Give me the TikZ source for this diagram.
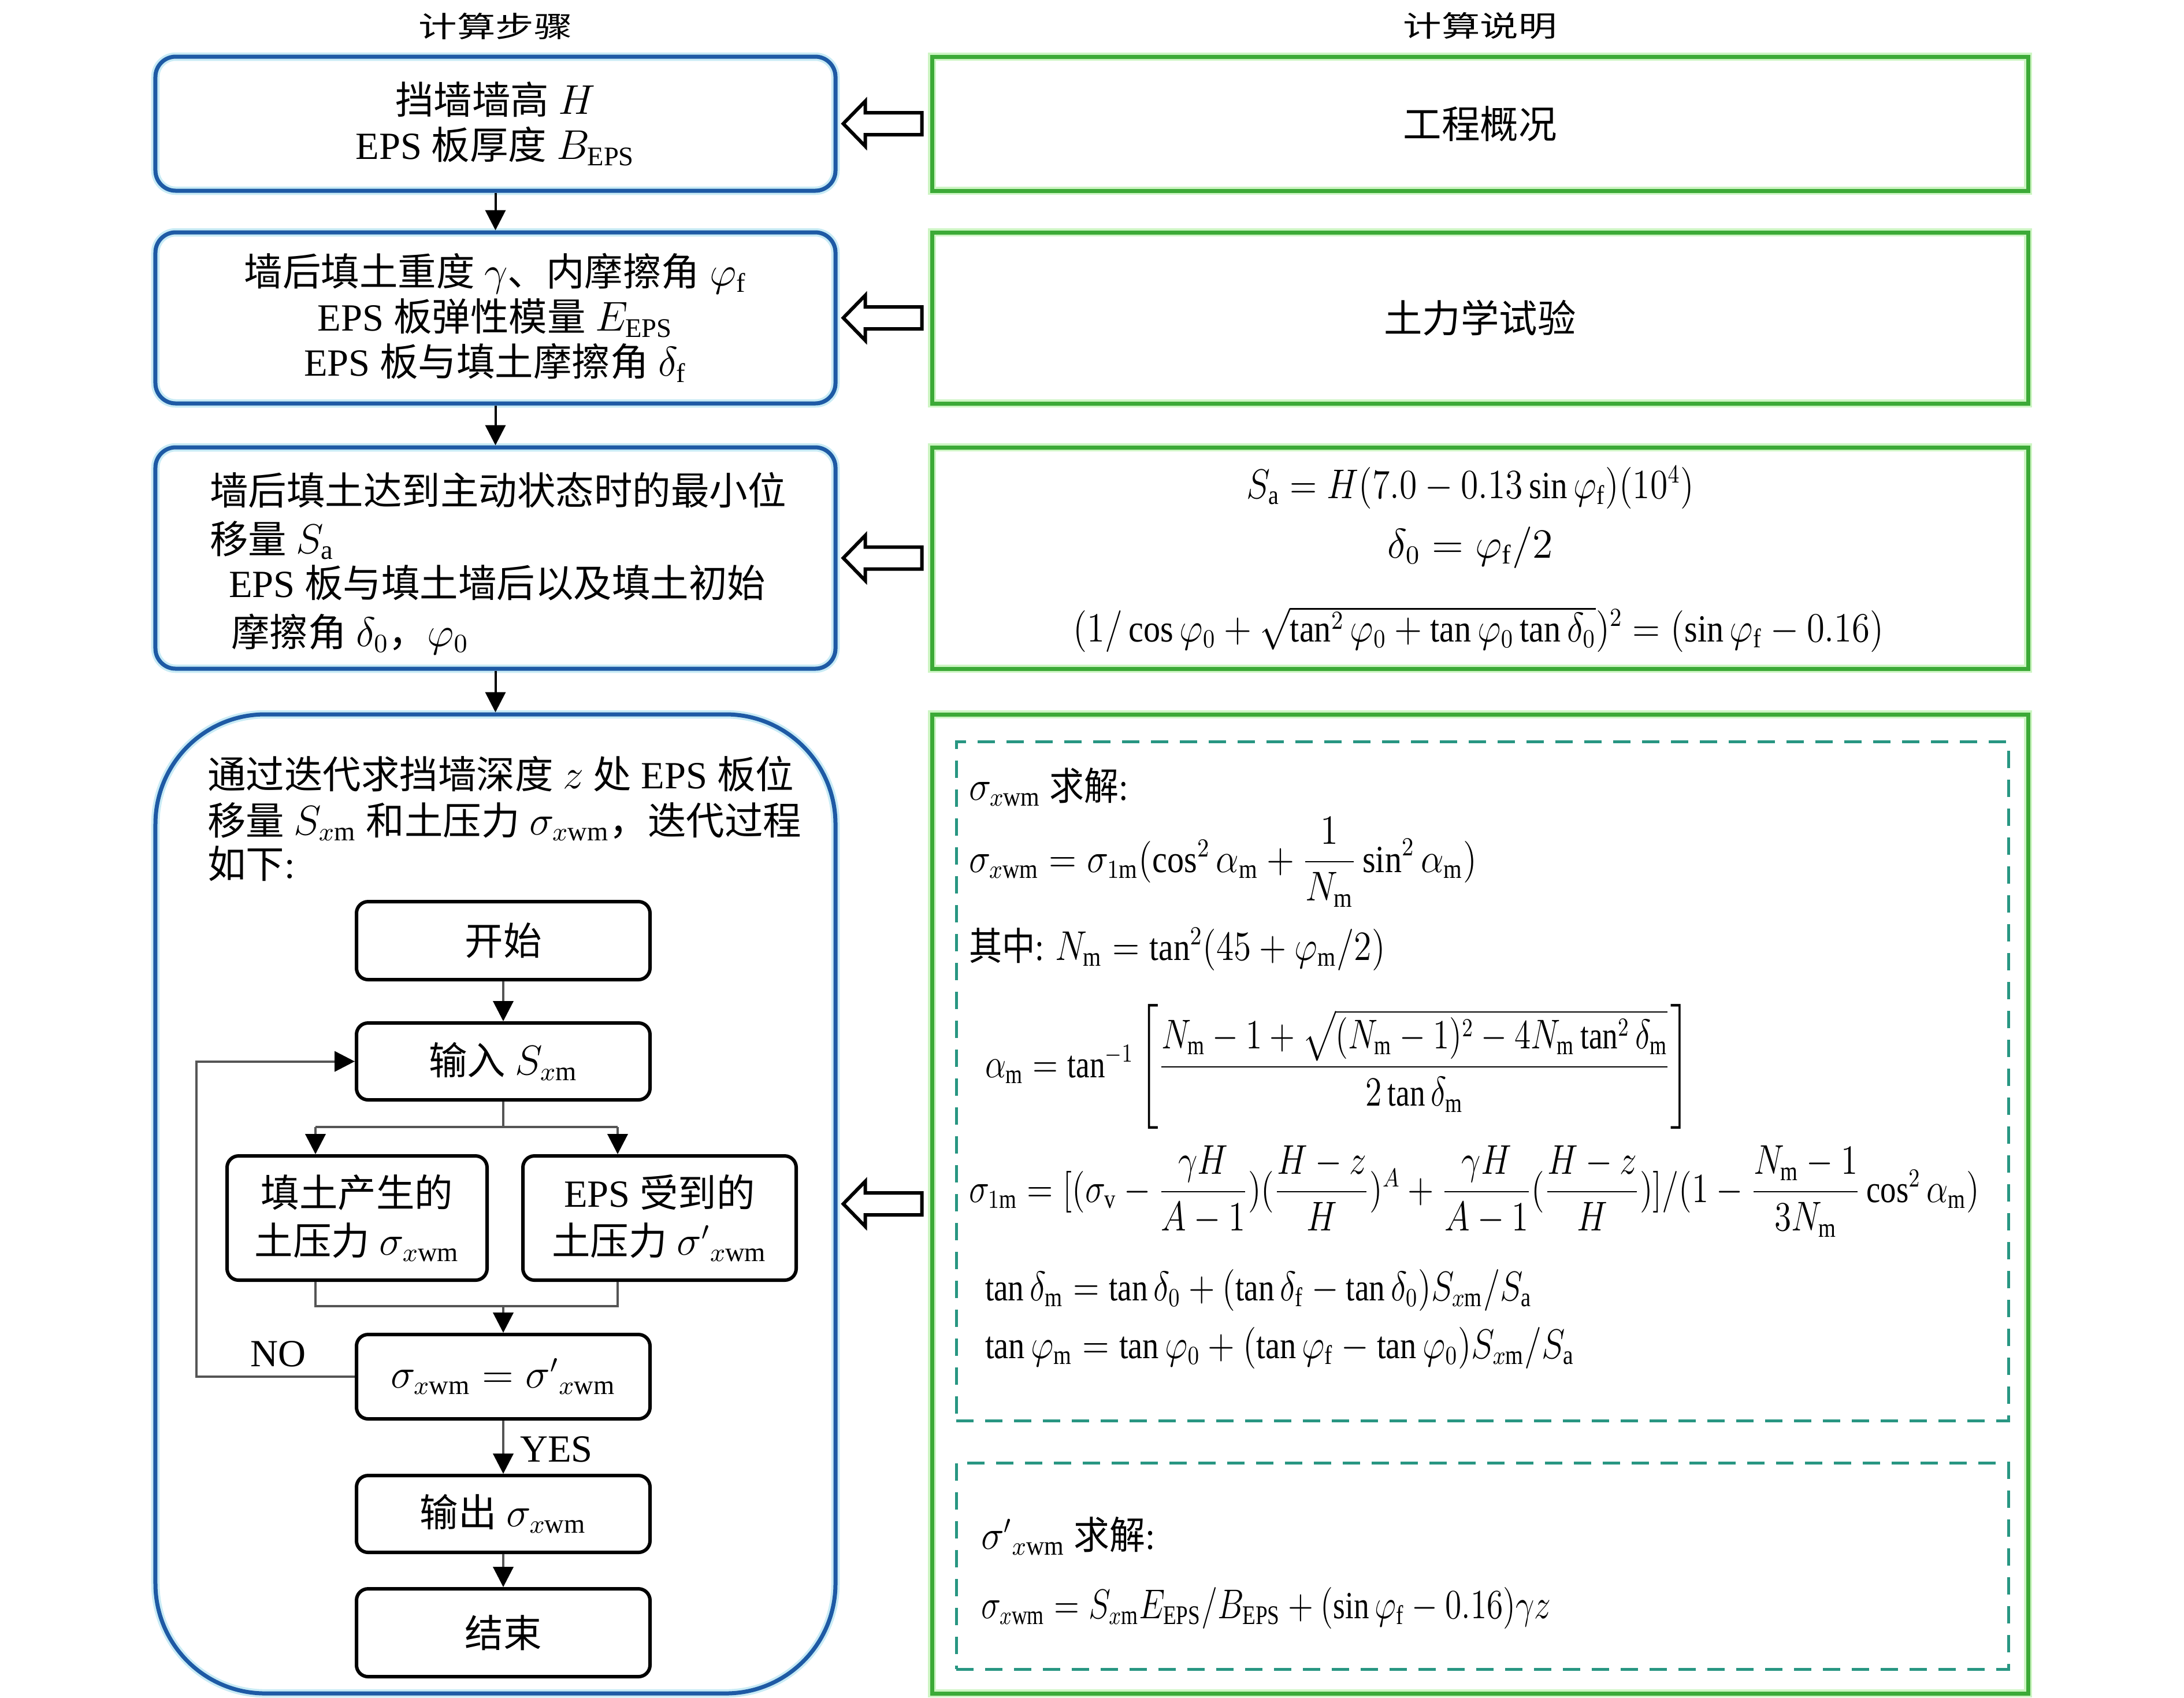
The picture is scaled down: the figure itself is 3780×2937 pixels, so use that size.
\documentclass[tikz,border=0pt]{standalone}
\usepackage{graphicx}
\usepackage{amsmath}
\usepackage{fontspec}
\setmainfont{Liberation Serif}
\newfontfamily\cjk{Noto Sans CJK SC}
\usetikzlibrary{arrows.meta,calc}
\newcommand{\zh}[1]{{\cjk #1}}
\newcommand{\sx}[2]{\scalebox{#1}[1]{#2}}
\definecolor{bluec}{RGB}{30,90,165}
\definecolor{bluehalo}{RGB}{200,235,245}
\definecolor{greenc}{RGB}{60,170,55}
\definecolor{greenhalo}{RGB}{205,245,195}
\definecolor{tealc}{RGB}{40,150,130}
\definecolor{connc}{RGB}{85,85,85}
\tikzset{
  txt/.style={font=\fontsize{13.3pt}{15.6pt}\selectfont, inner sep=0pt},
  bluebox/.style={txt, draw=bluec, line width=1.4pt, rounded corners=7pt,
    preaction={draw=bluehalo, line width=2.9pt}, minimum width=235.4pt, align=center},
  greenbox/.style={txt, draw=greenc, line width=1.4pt,
    preaction={draw=greenhalo, line width=2.9pt}, minimum width=379.4pt, align=center},
  dashbox/.style={draw=tealc, line width=1pt, dash pattern=on 6pt off 4pt, inner sep=0pt},
  fcbox/.style={txt, draw=black, line width=1.2pt, rounded corners=4pt,
    minimum width=101.6pt, minimum height=26.6pt, align=center},
  conn/.style={draw=connc, line width=0.8pt},
  arr/.style={conn, -{Triangle[length=7pt,width=7pt,color=black]}},
  mainarr/.style={draw=black, line width=0.8pt, -{Triangle[length=7pt,width=7pt]}},
  hollow/.style={draw=black, line width=1.2pt, fill=white, line join=miter},
  lw/.style={txt, anchor=base west},
  lc/.style={txt, anchor=base},
}
\begin{document}
\begin{tikzpicture}[x=0.2pt,y=-0.2pt]
\useasboundingbox (0,0) rectangle (3780,2937);
\fill[white] (0,0) rectangle (3780,2937);

% headers
\node[txt] (h1) at (857.5,45) {\scalebox{1}[0.75]{\zh{计算步骤}}};
\node[txt] (h2) at (2561.5,45) {\scalebox{1}[0.75]{\zh{计算说明}}};

% left column
\node[bluebox, minimum height=46.4pt] (L1) at (857.5,214)
  {\zh{挡墙墙高} $H$\\EPS \zh{板厚度} $B_{\mathrm{EPS}}$};
\node[bluebox, minimum height=59.2pt] (L2) at (857.5,550)
  {\zh{墙后填土重度} $\gamma$\zh{、内摩擦角} $\varphi_{\mathrm f}$\\EPS \zh{板弹性模量} $E_{\mathrm{EPS}}$\\EPS \zh{板与填土摩擦角} $\delta_{\mathrm f}$};
\node[bluebox, minimum height=76.6pt] (L3) at (857.5,965.5) {};
\node[bluebox, minimum height=338.8pt, rounded corners=38pt] (L4) at (857.5,2083) {};

\draw[mainarr] (L1.south) -- (L2.north);
\draw[mainarr] (L2.south) -- (L3.north);
\draw[mainarr] (L3.south) -- (L4.north);

% right column
\node[greenbox, minimum height=46.4pt] (R1) at (2561.5,214) {\zh{工程概况}};
\node[greenbox, minimum height=59.2pt] (R2) at (2561.5,550) {\zh{土力学试验}};
\node[greenbox, minimum height=76.6pt] (R3) at (2561.5,965.5) {};
\node[greenbox, minimum height=338.8pt] (R4) at (2561.5,2083) {};
\node[dashbox, minimum width=364.2pt, minimum height=235pt] (D1) at (2565.5,1870.5) {};
\node[dashbox, minimum width=364.2pt, minimum height=71.4pt] (D2) at (2565.5,2709.5) {};

% hollow arrows
\foreach \n in {1,2,3,4}
  \draw[hollow] ($(L\n.east)+(10,0)$) -- ++(38,-39) -- ++(0,20) -- ++(98,0)
     -- ++(0,38) -- ++(-98,0) -- ++(0,20) -- cycle;

% box 3 text
\node[lw] (t3a) at (362,873) {\zh{墙后填土达到主动状态时的最小位}};
\node[lw] (t3b) at (362,957) {\zh{移量} $S_{\mathrm a}$};
\node[lw] (t3c) at (395,1033) {EPS \zh{板与填土墙后以及填土初始}};
\node[lw] (t3d) at (399,1118) {\zh{摩擦角} $\delta_0$\zh{，}$\varphi_0$};

% box 4 text
\node[lw] (t4a) at (358,1364) {\zh{通过迭代求挡墙深度} $z$ \zh{处} EPS \zh{板位}};
\node[lw] (t4b) at (358,1444) {\zh{移量} $S_{x\mathrm m}$ \zh{和土压力} $\sigma_{x\mathrm{wm}}$\zh{，迭代过程}};
\node[lw] (t4c) at (358,1519) {\zh{如下}:};

% inner flowchart
\node[fcbox, minimum height=27pt] (st) at (871,1627.5) {\zh{开始}};
\node[fcbox] (in) at (871,1836.5) {\zh{输入} $S_{x\mathrm m}$};
\node[fcbox, minimum width=90pt, minimum height=43pt, font=\fontsize{13.3pt}{16.5pt}\selectfont] (ft) at (618,2107.5)
  {\zh{填土产生的}\\\zh{土压力} $\sigma_{x\mathrm{wm}}$};
\node[fcbox, minimum width=94.6pt, minimum height=43pt, font=\fontsize{13.3pt}{16.5pt}\selectfont] (fe) at (1141.5,2107.5)
  {EPS \zh{受到的}\\\zh{土压力} $\sigma'{}_{x\mathrm{wm}}$};
\node[fcbox, minimum height=29.2pt] (eq) at (871,2382) {$\sigma_{x\mathrm{wm}} = \sigma'{}_{x\mathrm{wm}}$};
\node[fcbox] (out) at (871,2619.5) {\zh{输出} $\sigma_{x\mathrm{wm}}$};
\node[fcbox, minimum height=30.4pt] (fin) at (871,2825) {\zh{结束}};

\draw[arr] (st) -- (in);
\coordinate (sp) at (871,1950);
\coordinate (spl) at (546,1950);
\coordinate (spr) at (1069,1950);
\draw[conn] (in.south) -- (sp);
\draw[conn] (spl) -- (spr);
\draw[arr] (spl) -- (spl |- ft.north);
\draw[arr] (spr) -- (spr |- fe.north);
\coordinate (mgl) at (546,2260);
\coordinate (mgr) at (1069,2260);
\coordinate (mg) at (871,2260);
\draw[conn] (mgl |- ft.south) -- (mgl) -- (mgr) -- (mgr |- fe.south);
\draw[arr] (mg) -- (eq.north);
\coordinate (lp) at (340,2000);
\draw[arr] (eq.west) -- (eq.west -| lp) -- (lp |- in.west) -- (in.west);
\draw[arr] (eq) -- (out);
\draw[arr] (out) -- (fin);
\node[txt] (no) at (482,2343) {NO};
\node[txt] (yes) at (963,2508) {YES};

% R3 formulas
\node[lc] (f1) at (2545,862) {\sx{0.86}{$S_{\mathrm a} = H(7.0 - 0.13\sin\varphi_{\mathrm f})(10^4)$}};
\node[lc] (f2) at (2545,965) {$\delta_0 = \varphi_{\mathrm f}/2$};
\node[lc] (f3) at (2559,1110) {\sx{0.875}{$(1/\cos\varphi_0 + \sqrt{\tan^2\varphi_0 + \tan\varphi_0\tan\delta_0})^2 = (\sin\varphi_{\mathrm f} - 0.16)$}};

% D1 formulas
\node[lw] (g1) at (1676,1384) {\sx{0.9}{$\sigma_{x\mathrm{wm}}$ \zh{求解}:}};
\node[lw] (g2) at (1676,1509) {\sx{0.875}{$\sigma_{x\mathrm{wm}} = \sigma_{1\mathrm m}(\cos^2\alpha_{\mathrm m} + \dfrac{1}{N_{\mathrm m}}\sin^2\alpha_{\mathrm m})$}};
\node[lw] (g3) at (1676,1661) {\sx{0.86}{\zh{其中}: $N_{\mathrm m} = \tan^2(45 + \varphi_{\mathrm m}/2)$}};
\node[lw] (g4) at (1704,1864) {\sx{0.8}{$\alpha_{\mathrm m} = \tan^{-1}\left[\dfrac{N_{\mathrm m} - 1 + \sqrt{(N_{\mathrm m}-1)^2 - 4N_{\mathrm m}\tan^2\delta_{\mathrm m}}}{2\tan\delta_{\mathrm m}}\right]$}};
\node[lw] (g5) at (1676,2080) {\sx{0.825}{$\sigma_{1\mathrm m} = [(\sigma_{\mathrm v} - \dfrac{\gamma H}{A-1})(\dfrac{H-z}{H})^A + \dfrac{\gamma H}{A-1}(\dfrac{H-z}{H})]/(1 - \dfrac{N_{\mathrm m}-1}{3N_{\mathrm m}}\cos^2\alpha_{\mathrm m})$}};
\node[lw] (g6) at (1704,2250) {\sx{0.83}{$\tan\delta_{\mathrm m} = \tan\delta_0 + (\tan\delta_{\mathrm f} - \tan\delta_0)S_{x\mathrm m}/S_{\mathrm a}$}};
\node[lw] (g7) at (1704,2350) {\sx{0.85}{$\tan\varphi_{\mathrm m} = \tan\varphi_0 + (\tan\varphi_{\mathrm f} - \tan\varphi_0)S_{x\mathrm m}/S_{\mathrm a}$}};

% D2 formulas
\node[lw] (k1) at (1697,2680) {\sx{0.93}{$\sigma'{}_{x\mathrm{wm}}$ \zh{求解}:}};
\node[lw] (k2) at (1697,2800) {\sx{0.8}{$\sigma_{x\mathrm{wm}} = S_{x\mathrm m}E_{\mathrm{EPS}}/B_{\mathrm{EPS}} + (\sin\varphi_{\mathrm f} - 0.16)\gamma z$}};
\end{tikzpicture}
\end{document}
